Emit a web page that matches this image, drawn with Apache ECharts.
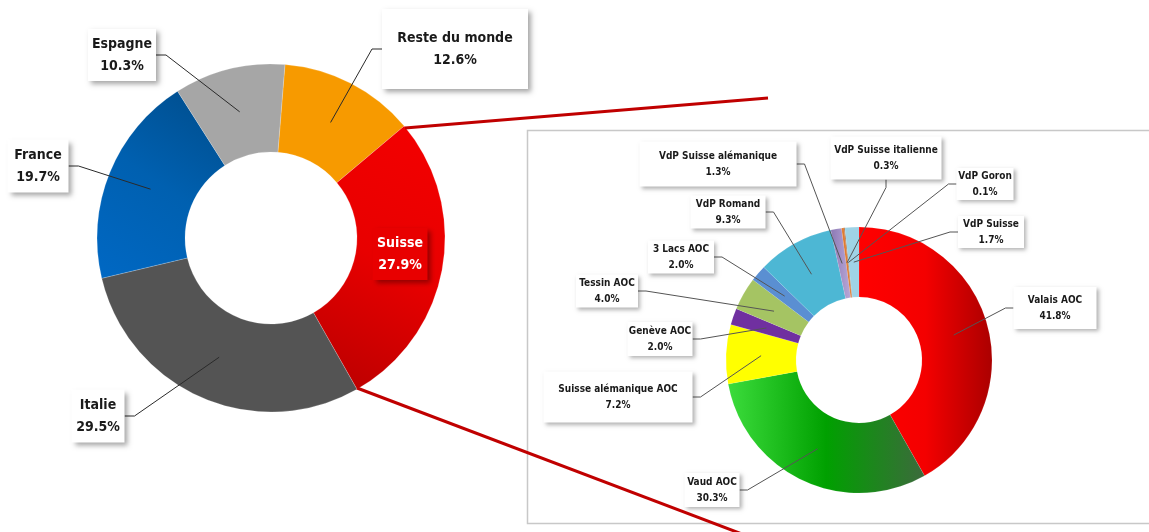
<!DOCTYPE html>
<html>
<head>
<meta charset="utf-8">
<script src="https://cdn.jsdelivr.net/npm/echarts@6/dist/echarts.min.js"></script>
<style>
  html, body { margin: 0; padding: 0; background: #fff; }
  #main { width: 1149px; height: 532px; }
</style>
</head>
<body>
<div id="main"></div>
<script>
// world share
var worldNames = ["Reste du monde", "Suisse", "Italie", "France", "Espagne"];
var worldValues = [12.6, 27.9, 29.5, 19.7, 10.3];

// breakdown of the Swiss share
var swissNames = ["Valais AOC", "Vaud AOC", "Suisse alémanique AOC", "Genève AOC", "Tessin AOC",
  "3 Lacs AOC", "VdP Romand", "VdP Suisse alémanique", "VdP Suisse italienne", "VdP Goron", "VdP Suisse"];
var swissValues = [41.8, 30.3, 7.2, 2.0, 4.0, 2.0, 9.3, 1.3, 0.3, 0.1, 1.7];

// label boxes: [centerX, centerY, width, height]
var worldBoxes = [
  [455, 49, 146, 80],
  [400, 254, 55, 52],
  [98, 416, 53, 53],
  [38, 166, 61, 53],
  [122, 55, 68, 52]
];
var swissBoxes = [
  [1055, 308, 83, 42],
  [712, 490, 55, 34],
  [618, 397, 149, 51],
  [660, 339, 65, 34],
  [607, 291, 62, 33],
  [681, 257, 66, 33],
  [728, 212, 75, 33],
  [718, 164, 157, 45],
  [886, 158, 111, 43],
  [985, 184, 57, 32],
  [991, 232, 66, 31]
];

function grad(x, y, x2, y2, stops) {
  return new echarts.graphic.LinearGradient(x, y, x2, y2, stops.map(function (c, i) {
    return { offset: i / (stops.length - 1), color: c };
  }));
}

var worldColors = [
  "#f79a00",
  grad(1, 0, 0, 1, ["#f40000", "#e80000", "#b80000"]),
  "#545454",
  grad(1, 0, 0, 1, ["#004c8a", "#0060b0", "#0068c4"]),
  "#a6a6a6"
];
var swissColors = [
  grad(0, 0, 1, 0, ["#ff0000", "#f40000", "#ab0000"]),
  grad(0, 0, 1, 0, ["#3cdc3c", "#00a000", "#3c6a3c"]),
  "#ffff00",
  "#7030a0",
  "#a5c463",
  "#5a8fd2",
  "#4db7d4",
  grad(0, 0, 1, 0, ["#8c78b4", "#b9a8d8"]),
  "#e07b30",
  "#9a5a2a",
  "#9fd3e6"
];

var FONT = '"DejaVu Sans Condensed", "DejaVu Sans", sans-serif';

function pct(p) { return p.name + "\n" + p.value.toFixed(1) + "%"; }

function boxLabel(b, lh) {
  return {
    width: b[2],
    overflow: "none",
    lineHeight: lh,
    padding: [Math.max(0, (b[3] - 2 * lh) / 2), 0]
  };
}

var worldData = worldNames.map(function (n, i) {
  return { name: n, value: worldValues[i], itemStyle: { color: worldColors[i] } };
});
var worldLabelData = worldNames.map(function (n, i) {
  var item = { name: n, value: worldValues[i], label: boxLabel(worldBoxes[i], 22) };
  if (n === "Suisse") {
    item.label.backgroundColor = "#e80000";
    item.label.color = "#fff";
    item.label.shadowColor = "rgba(90,0,0,0.6)";
    item.labelLine = { show: false };
  }
  return item;
});
var swissData = swissNames.map(function (n, i) {
  return { name: n, value: swissValues[i], itemStyle: { color: swissColors[i] } };
});
var swissLabelData = swissNames.map(function (n, i) {
  return { name: n, value: swissValues[i], label: boxLabel(swissBoxes[i], 16) };
});

var chart = echarts.init(document.getElementById("main"));
chart.setOption({
  animation: false,
  graphic: [
    {
      type: "rect", z: 0,
      shape: { x: 527.5, y: 130.5, width: 640, height: 393 },
      style: { fill: "#fff", stroke: "#c8c8c8", lineWidth: 1.5 }
    },
    {
      type: "line", z: 100,
      shape: { x1: 405, y1: 128, x2: 768, y2: 98 },
      style: { stroke: "#c00000", lineWidth: 3 }
    },
    {
      type: "line", z: 100,
      shape: { x1: 357, y1: 388, x2: 742, y2: 534 },
      style: { stroke: "#c00000", lineWidth: 3 }
    }
  ],
  series: [
    {
      type: "pie", silent: true,
      center: [271, 238], radius: [86, 174],
      startAngle: 85.4,
      label: { show: false }, labelLine: { show: false },
      itemStyle: { borderColor: "rgba(255,255,255,0.4)", borderWidth: 0.5 },
      data: worldData
    },
    {
      // invisible helper ring: label lines start in the middle of the ring
      type: "pie", silent: true, z: 3,
      center: [271, 238], radius: [0, 130],
      startAngle: 85.4,
      avoidLabelOverlap: false,
      itemStyle: { color: "rgba(0,0,0,0)" },
      label: {
        show: true, formatter: pct,
        fontFamily: FONT, fontSize: 14, fontWeight: "bold", color: "#1a1a1a",
        backgroundColor: "#fff",
        shadowColor: "rgba(0,0,0,0.35)", shadowBlur: 5, shadowOffsetX: 3, shadowOffsetY: 3
      },
      labelLine: { show: true, length: 10, length2: 10, minTurnAngle: 0,
        lineStyle: { color: "#2a2a2a", width: 1 } },
      labelLayout: function (p) {
        var b = worldBoxes[p.dataIndex];
        return { x: b[0], y: b[1], align: "center", verticalAlign: "middle" };
      },
      data: worldLabelData
    },
    {
      type: "pie", silent: true,
      center: [859, 360], radius: [63, 133],
      startAngle: 90,
      label: { show: false }, labelLine: { show: false },
      itemStyle: { borderColor: "rgba(255,255,255,0.3)", borderWidth: 0.3 },
      data: swissData
    },
    {
      type: "pie", silent: true, z: 3,
      center: [859, 360], radius: [0, 98],
      startAngle: 90,
      avoidLabelOverlap: false,
      itemStyle: { color: "rgba(0,0,0,0)" },
      label: {
        show: true, formatter: pct,
        fontFamily: FONT, fontSize: 10, fontWeight: "bold", color: "#1a1a1a",
        backgroundColor: "#fff",
        shadowColor: "rgba(0,0,0,0.3)", shadowBlur: 4, shadowOffsetX: 2, shadowOffsetY: 2
      },
      labelLine: { show: true, length: 8, length2: 8, minTurnAngle: 0,
        lineStyle: { color: "#555", width: 1 } },
      labelLayout: function (p) {
        var b = swissBoxes[p.dataIndex];
        return { x: b[0], y: b[1], align: "center", verticalAlign: "middle" };
      },
      data: swissLabelData
    }
  ]
});
</script>
</body>
</html>
